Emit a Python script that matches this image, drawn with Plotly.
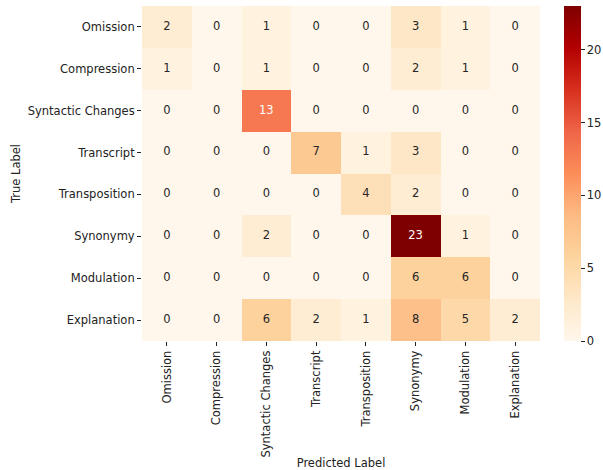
import plotly.graph_objects as go

labels = ["Omission", "Compression", "Syntactic Changes", "Transcript",
          "Transposition", "Synonymy", "Modulation", "Explanation"]

matrix = [
    [2, 0, 1, 0, 0, 3, 1, 0],
    [1, 0, 1, 0, 0, 2, 1, 0],
    [0, 0, 13, 0, 0, 0, 0, 0],
    [0, 0, 0, 7, 1, 3, 0, 0],
    [0, 0, 0, 0, 4, 2, 0, 0],
    [0, 0, 2, 0, 0, 23, 1, 0],
    [0, 0, 0, 0, 0, 6, 6, 0],
    [0, 0, 6, 2, 1, 8, 5, 2],
]

cbar_ticks = [0, 5, 10, 15, 20]

orrd = [
    [0.0, "#fff7ec"], [0.125, "#fee8c8"], [0.25, "#fdd49e"], [0.375, "#fdbb84"],
    [0.5, "#fc8d59"], [0.625, "#ef6548"], [0.75, "#d7301f"], [0.875, "#b30000"],
    [1.0, "#7f0000"],
]

vmax = max(max(r) for r in matrix)
FS = 11.5

fig = go.Figure()
fig.add_trace(go.Heatmap(
    z=matrix, x=labels, y=labels,
    colorscale=orrd, zmin=0, zmax=vmax,
    xgap=0, ygap=0,
    colorbar=dict(
        x=1.06, xanchor="left", xref="paper",
        y=0, yanchor="bottom", yref="paper", len=1, lenmode="fraction",
        thickness=17, outlinewidth=0, xpad=0, ypad=0,
        tickvals=cbar_ticks, ticks="outside", ticklen=4,
        tickcolor="#222", tickfont=dict(size=FS, color="#222"),
    ),
    hoverinfo="skip",
))

tx, ty, tt, tc = [], [], [], []
for i, row in enumerate(matrix):
    for j, v in enumerate(row):
        tx.append(labels[j]); ty.append(labels[i]); tt.append(str(v))
        tc.append("white" if v / vmax > 0.5 else "#262626")

fig.add_trace(go.Scatter(
    x=tx, y=ty, text=tt, mode="text",
    textfont=dict(size=FS, color=tc, family="DejaVu Sans"),
    showlegend=False, hoverinfo="skip",
))

fig.update_layout(
    width=603, height=470,
    margin=dict(l=142, r=63, t=6, b=129, autoexpand=False),
    plot_bgcolor="white", paper_bgcolor="white",
    font=dict(family="DejaVu Sans", size=FS, color="#222"),
    xaxis=dict(
        type="category", tickangle=-90, ticks="outside", ticklen=4,
        tickcolor="#222", showgrid=False, zeroline=False, showline=False,
        title=dict(text="Predicted Label", font=dict(size=FS), standoff=4),
        automargin=False,
    ),
    yaxis=dict(
        type="category", autorange="reversed", ticks="outside", ticklen=4,
        tickcolor="#222", showgrid=False, zeroline=False, showline=False,
        title=dict(text="True Label", font=dict(size=FS), standoff=4),
        automargin=False,
    ),
)

fig.write_html(
    "out.html",
    config={"displayModeBar": False},
    post_script="document.body.style.margin='0';document.body.style.overflow='hidden';",
)
